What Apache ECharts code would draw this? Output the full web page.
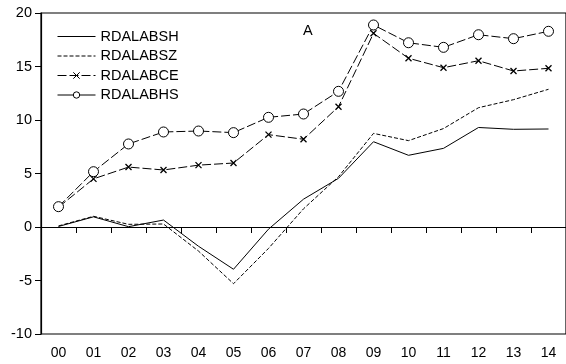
<!DOCTYPE html>
<html>
<head>
<meta charset="utf-8">
<script src="https://cdn.jsdelivr.net/npm/echarts@6/dist/echarts.min.js"></script>
<style>
  html, body { margin: 0; padding: 0; background: #fff; }
  #chart { width: 566px; height: 364px; }
</style>
</head>
<body>
<div id="chart"></div>
<script>
// Years (two-digit) along the x axis
const years = ['00','01','02','03','04','05','06','07','08','09','10','11','12','13','14'];

// Series values
const rdalabsh = [0.05, 0.95, 0.03, 0.65, -1.8, -3.95, -0.2, 2.6, 4.55, 7.97, 6.7, 7.35, 9.3, 9.13, 9.16];
const rdalabsz = [0.1, 1.0, 0.25, 0.28, -2.25, -5.3, -2.0, 1.7, 4.7, 8.75, 8.07, 9.2, 11.15, 11.9, 12.87];
const rdalabce = [1.85, 4.5, 5.6, 5.33, 5.78, 5.98, 8.63, 8.2, 11.24, 18.1, 15.77, 14.89, 15.54, 14.58, 14.83];
const rdalabhs = [1.9, 5.17, 7.76, 8.88, 8.97, 8.82, 10.25, 10.56, 12.68, 18.88, 17.22, 16.79, 17.97, 17.6, 18.29];

// Y axis range
const yMin = -10, yMax = 20, yStep = 5;

const FONT = 'Liberation Sans';
const crossPath = 'path://M0,0L10,10M10,0L0,10';

const chart = echarts.init(document.getElementById('chart'), null, { renderer: 'canvas' });

function lineSeries(name, data, dash, symbol, symbolSize) {
  return {
    name: name,
    type: 'line',
    data: data,
    symbol: symbol,
    symbolSize: symbolSize,
    showSymbol: symbol !== 'none',
    animation: false,
    lineStyle: { color: '#000', width: 1, type: dash },
    itemStyle: symbol === 'circle'
      ? { color: '#fff', borderColor: '#000', borderWidth: 1 }
      : { color: '#000', borderColor: '#000', borderWidth: 1.3 },
    emphasis: { disabled: true }
  };
}

chart.setOption({
  animation: false,
  backgroundColor: '#fff',
  textStyle: { fontFamily: FONT },
  grid: {
    left: 41, top: 13, width: 535, bottom: 30,
    show: true, borderColor: '#000', borderWidth: 1.2, backgroundColor: 'transparent'
  },
  legend: {
    orient: 'vertical',
    left: 52, top: 24,
    itemWidth: 38, itemHeight: 8, itemGap: 4.5,
    textStyle: { fontFamily: FONT, fontSize: 14.5, color: '#000' },
    data: [
      { name: 'RDALABSH', itemStyle: { opacity: 0 }, lineStyle: { width: 1 } },
      { name: 'RDALABSZ', itemStyle: { opacity: 0 }, lineStyle: { width: 1 } },
      { name: 'RDALABCE', lineStyle: { width: 1 }, itemStyle: { borderWidth: 1 } },
      { name: 'RDALABHS', lineStyle: { type: 'solid', width: 1 }, itemStyle: { borderWidth: 1 } }
    ]
  },
  xAxis: {
    type: 'category',
    data: years,
    boundaryGap: true,
    axisLine: { lineStyle: { color: '#000', width: 1.2 } },
    axisTick: { show: true, length: 6, lineStyle: { color: '#000' } },
    axisLabel: { fontFamily: FONT, fontSize: 14, color: '#000', margin: 12, interval: 0 },
    splitLine: { show: false }
  },
  yAxis: {
    type: 'value',
    min: yMin, max: yMax, interval: yStep,
    axisLine: { show: true, lineStyle: { color: '#000', width: 1.2 } },
    axisTick: { show: true, length: 6, lineStyle: { color: '#000' } },
    axisLabel: { fontFamily: FONT, fontSize: 14.5, color: '#000', margin: 9 },
    splitLine: { show: false }
  },
  graphic: [{
    type: 'text',
    left: 303, top: 23,
    style: { text: 'A', font: '14.5px "Liberation Sans"', fill: '#000' }
  }],
  series: [
    lineSeries('RDALABSH', rdalabsh, 'solid', 'none', 0),
    lineSeries('RDALABSZ', rdalabsz, [4, 2], 'none', 0),
    lineSeries('RDALABCE', rdalabce, [9, 3], crossPath, 6),
    lineSeries('RDALABHS', rdalabhs, [9, 3], 'circle', 10)
  ]
});
</script>
</body>
</html>
